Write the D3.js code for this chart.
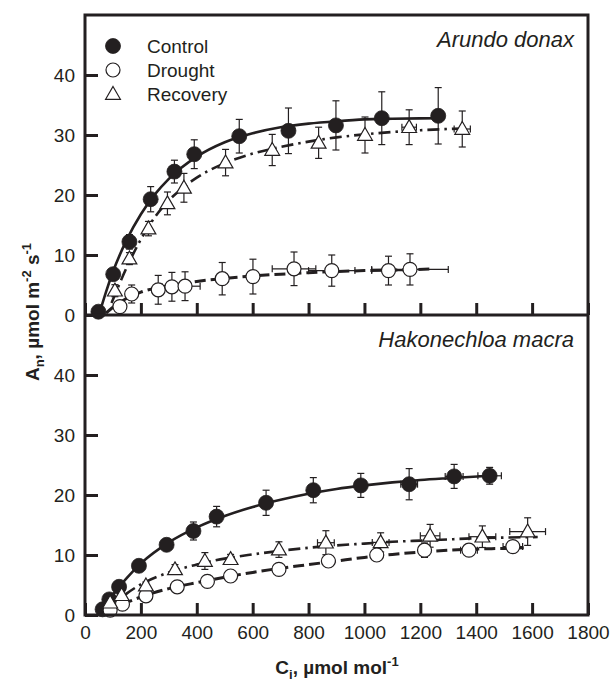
<!DOCTYPE html>
<html>
<head>
<meta charset="utf-8">
<script src="https://cdn.jsdelivr.net/npm/d3@7"></script>
<style>
body { margin: 0; background: #fff; }
text { font-family: "Liberation Sans", Arial, sans-serif; fill: #231f20; }
</style>
</head>
<body>
<div id="chart"></div>
<script>
// axis ticks
var xTicks = [0, 200, 400, 600, 800, 1000, 1200, 1400, 1600, 1800];
var yTicks = [0, 10, 20, 30, 40];
var seriesNames = ["Control", "Drought", "Recovery"];

// Arundo donax - means, SE of An, SE of Ci
var adControlCi = [48, 101, 159, 235, 320, 391, 552, 728, 898, 1062, 1264];
var adControlAn = [0.55, 6.8, 12.2, 19.3, 23.9, 26.8, 29.8, 30.7, 31.6, 32.8, 33.2];
var adControlErr = [0.3, 0.8, 1.2, 2.1, 1.9, 2.4, 2.8, 3.8, 4.1, 4.4, 4.7];
var adControlCiErr = [0, 0, 0, 0, 0, 0, 0, 0, 0, 0, 0];

var adDroughtCi = [125, 167, 262, 311, 358, 491, 601, 748, 883, 1086, 1163];
var adDroughtAn = [1.4, 3.5, 4.2, 4.7, 4.8, 6.05, 6.4, 7.7, 7.4, 7.4, 7.6];
var adDroughtErr = [0.5, 1.5, 2.4, 2.4, 2.4, 2.7, 2.9, 2.8, 2.6, 2.4, 2.6];
var adDroughtCiErr = [0, 0, 0, 35, 54, 0, 0, 78, 83, 60, 137];

var adRecoveryCi = [107, 159, 227, 295, 354, 503, 670, 836, 1002, 1160, 1350];
var adRecoveryAn = [4.05, 9.4, 14.4, 18.6, 21.2, 25.4, 27.5, 28.7, 30, 31.3, 31];
var adRecoveryErr = [1.0, 1.0, 1.2, 1.9, 2.4, 2.2, 2.6, 2.6, 3.0, 2.9, 3.0];
var adRecoveryCiErr = [0, 0, 0, 0, 0, 0, 0, 0, 0, 26, 29];

// Arundo donax - fitted curves
var adControlFitCi = [50, 75, 100, 150, 200, 250, 300, 400, 500, 600, 700, 800, 900, 1000, 1100, 1264];
var adControlFitAn = [0, 3.8, 7.2, 12.6, 16.8, 20.1, 22.7, 26.4, 28.8, 30.3, 31.3, 31.9, 32.3, 32.6, 32.7, 32.8];
var adDroughtFitCi = [75, 100, 150, 200, 300, 400, 500, 600, 700, 800, 900, 1000, 1100, 1235];
var adDroughtFitAn = [0.3, 1.3, 2.8, 3.8, 4.9, 5.6, 6.1, 6.5, 6.8, 7.05, 7.25, 7.4, 7.5, 7.65];
var adRecoveryFitCi = [95, 150, 200, 250, 300, 350, 400, 500, 600, 700, 800, 900, 1000, 1100, 1200, 1300, 1370];
var adRecoveryFitAn = [2.0, 8.0, 12.6, 16.3, 19.1, 21.2, 22.9, 25.3, 26.9, 28.0, 28.9, 29.6, 30.1, 30.5, 30.8, 31.0, 31.1];

// Hakonechloa macra - means, SE of An, SE of Ci
var hmControlCi = [63, 87, 122, 193, 292, 388, 471, 648, 817, 987, 1160, 1321, 1448];
var hmControlAn = [0.95, 2.6, 4.7, 8.2, 11.7, 14, 16.4, 18.7, 20.8, 21.6, 21.8, 23.1, 23.2];
var hmControlErr = [0.3, 0.4, 0.5, 0.6, 0.7, 1.5, 1.7, 2.1, 2.1, 2.0, 2.6, 2.0, 1.4];
var hmControlCiErr = [0, 0, 0, 0, 0, 0, 0, 0, 0, 0, 30, 32, 42];

var hmDroughtCi = [90, 134, 218, 330, 438, 521, 694, 871, 1044, 1215, 1374, 1531];
var hmDroughtAn = [0.8, 1.8, 3.2, 4.7, 5.6, 6.5, 7.6, 9, 10, 10.8, 10.8, 11.4];
var hmDroughtErr = [0.3, 0.3, 0.4, 0.5, 0.5, 0.5, 0.5, 0.6, 0.8, 1.2, 0.6, 0.6];
var hmDroughtCiErr = [0, 0, 0, 0, 0, 0, 0, 0, 0, 0, 30, 35];

var hmRecoveryCi = [90, 131, 218, 322, 429, 521, 694, 862, 1058, 1235, 1422, 1584];
var hmRecoveryAn = [2.05, 3.3, 4.9, 7.6, 9, 9.3, 10.9, 12.05, 12.1, 13.2, 13.05, 13.9];
var hmRecoveryErr = [0.4, 0.5, 0.6, 0.8, 1.4, 0.8, 1.3, 2.0, 1.6, 1.9, 1.8, 2.3];
var hmRecoveryCiErr = [0, 0, 0, 0, 0, 0, 0, 30, 30, 35, 48, 64];

// Hakonechloa macra - fitted curves
var hmControlFitCi = [55, 75, 100, 150, 200, 300, 400, 500, 600, 700, 800, 900, 1000, 1100, 1200, 1300, 1450];
var hmControlFitAn = [0.3, 1.9, 3.4, 6.2, 8.6, 12.1, 14.6, 16.5, 18.0, 19.2, 20.2, 21.0, 21.6, 22.1, 22.5, 22.8, 23.2];
var hmDroughtFitCi = [85, 100, 150, 200, 300, 400, 500, 600, 700, 800, 900, 1000, 1100, 1200, 1300, 1400, 1500, 1570];
var hmDroughtFitAn = [0.3, 1.0, 2.1, 3.0, 4.4, 5.4, 6.3, 7.1, 7.8, 8.4, 9.0, 9.6, 10.1, 10.5, 10.8, 11.0, 11.1, 11.2];
var hmRecoveryFitCi = [80, 100, 150, 200, 300, 400, 500, 600, 700, 800, 900, 1000, 1100, 1200, 1300, 1400, 1500, 1620];
var hmRecoveryFitAn = [0.5, 1.6, 3.6, 5.1, 7.1, 8.4, 9.4, 10.1, 10.7, 11.2, 11.6, 11.9, 12.2, 12.4, 12.6, 12.8, 12.9, 13.0];

var ink = "#231f20";
var W = 610, H = 690;
var plotL = 85, plotR = 588, plotT = 15, plotMid = 315, plotB = 615;

var svg = d3.select("#chart").append("svg")
    .attr("width", W)
    .attr("height", H);

var x = d3.scaleLinear().domain([0, 1800]).range([plotL, plotR]);
var yTop = d3.scaleLinear().domain([0, 50]).range([plotMid, plotT]);
var yBot = d3.scaleLinear().domain([0, 50]).range([plotB, plotMid]);

function zipPts(ci, an, err, ciErr) {
    return ci.map(function (d, i) {
        return {ci: d, an: an[i], err: err ? err[i] : 0, ciErr: ciErr ? ciErr[i] : 0};
    });
}

// line styles per treatment
var styles = {
    Control: {dash: null, width: 2.6},
    Drought: {dash: "11,5", width: 3},
    Recovery: {dash: "12,5,2.5,5", width: 2.6}
};

var triangle = d3.symbol().type(d3.symbolTriangle).size(95);

function marker(g, name, cx, cy) {
    if (name == "Control") {
        g.append("circle").attr("cx", cx).attr("cy", cy).attr("r", 7.5)
            .attr("fill", ink).attr("stroke", ink).attr("stroke-width", 0.8);
    } else if (name == "Drought") {
        g.append("circle").attr("cx", cx).attr("cy", cy).attr("r", 7)
            .attr("fill", "#fff").attr("stroke", ink).attr("stroke-width", 1.2);
    } else {
        g.append("path").attr("d", triangle)
            .attr("transform", "translate(" + cx + "," + (cy + 1) + ")")
            .attr("fill", "#fff").attr("stroke", ink).attr("stroke-width", 1.2);
    }
}

function drawPanel(y, series, fits, label) {
    var g = svg.append("g");
    var line = d3.line()
        .x(function (d) { return x(d.ci); })
        .y(function (d) { return y(d.an); })
        .curve(d3.curveMonotoneX);

    // fitted curves
    fits.forEach(function (f) {
        g.append("path")
            .datum(f.pts)
            .attr("d", line)
            .attr("fill", "none")
            .attr("stroke", ink)
            .attr("stroke-width", styles[f.name].width)
            .attr("stroke-dasharray", styles[f.name].dash);
    });

    // error bars
    var cap = 3.5;
    series.forEach(function (s) {
        s.pts.forEach(function (d) {
            var px = x(d.ci), py = y(d.an);
            if (d.err > 0) {
                var y0 = y(d.an - d.err), y1 = y(d.an + d.err);
                g.append("line").attr("x1", px).attr("x2", px).attr("y1", y0).attr("y2", y1);
                g.append("line").attr("x1", px - cap).attr("x2", px + cap).attr("y1", y0).attr("y2", y0);
                g.append("line").attr("x1", px - cap).attr("x2", px + cap).attr("y1", y1).attr("y2", y1);
            }
            if (d.ciErr > 0) {
                var x0 = x(d.ci - d.ciErr), x1 = x(d.ci + d.ciErr);
                g.append("line").attr("x1", x0).attr("x2", x1).attr("y1", py).attr("y2", py);
                g.append("line").attr("x1", x0).attr("x2", x0).attr("y1", py - cap).attr("y2", py + cap);
                g.append("line").attr("x1", x1).attr("x2", x1).attr("y1", py - cap).attr("y2", py + cap);
            }
        });
    });
    g.selectAll("line").attr("stroke", ink).attr("stroke-width", 1.2);

    // markers
    series.forEach(function (s) {
        s.pts.forEach(function (d) {
            marker(g, s.name, x(d.ci), y(d.an));
        });
    });

    // species name
    svg.append("text")
        .attr("x", 574)
        .attr("y", y(50) + 32)
        .attr("text-anchor", "end")
        .style("font-style", "italic")
        .style("font-size", "22px")
        .text(label);

    // y axis, ticks inside
    var ya = svg.append("g")
        .attr("transform", "translate(" + plotL + ",0)")
        .call(d3.axisLeft(y).tickValues(yTicks).tickSize(-13).tickPadding(10));
    ya.select(".domain").remove();
    ya.selectAll(".tick line").attr("stroke", ink).attr("stroke-width", 3);
    ya.selectAll(".tick text").style("font-size", "19px").attr("fill", ink)
        .style("font-family", "'Liberation Sans', Arial, sans-serif");

    // x ticks along the panel bottom
    var xa = svg.append("g")
        .attr("transform", "translate(0," + y(0) + ")")
        .call(d3.axisBottom(x).tickValues(xTicks).tickFormat(d3.format("d"))
            .tickSize(-12).tickPadding(11));
    xa.select(".domain").remove();
    xa.selectAll(".tick line").attr("stroke", ink).attr("stroke-width", 3);
    xa.selectAll(".tick text").style("font-size", "19px").attr("fill", ink)
        .style("font-family", "'Liberation Sans', Arial, sans-serif");
    return xa;
}

var topAxis = drawPanel(yTop,
    [
        {name: "Control", pts: zipPts(adControlCi, adControlAn, adControlErr, adControlCiErr)},
        {name: "Drought", pts: zipPts(adDroughtCi, adDroughtAn, adDroughtErr, adDroughtCiErr)},
        {name: "Recovery", pts: zipPts(adRecoveryCi, adRecoveryAn, adRecoveryErr, adRecoveryCiErr)}
    ],
    [
        {name: "Control", pts: zipPts(adControlFitCi, adControlFitAn)},
        {name: "Drought", pts: zipPts(adDroughtFitCi, adDroughtFitAn)},
        {name: "Recovery", pts: zipPts(adRecoveryFitCi, adRecoveryFitAn)}
    ],
    "Arundo donax");
// only the bottom panel carries x labels
topAxis.selectAll(".tick text").remove();

drawPanel(yBot,
    [
        {name: "Control", pts: zipPts(hmControlCi, hmControlAn, hmControlErr, hmControlCiErr)},
        {name: "Drought", pts: zipPts(hmDroughtCi, hmDroughtAn, hmDroughtErr, hmDroughtCiErr)},
        {name: "Recovery", pts: zipPts(hmRecoveryCi, hmRecoveryAn, hmRecoveryErr, hmRecoveryCiErr)}
    ],
    [
        {name: "Control", pts: zipPts(hmControlFitCi, hmControlFitAn)},
        {name: "Drought", pts: zipPts(hmDroughtFitCi, hmDroughtFitAn)},
        {name: "Recovery", pts: zipPts(hmRecoveryFitCi, hmRecoveryFitAn)}
    ],
    "Hakonechloa macra");

// frames
svg.append("rect")
    .attr("x", plotL).attr("y", plotT)
    .attr("width", plotR - plotL).attr("height", plotB - plotT)
    .attr("fill", "none").attr("stroke", ink).attr("stroke-width", 3);
svg.append("line")
    .attr("x1", plotL).attr("x2", plotR).attr("y1", plotMid).attr("y2", plotMid)
    .attr("stroke", ink).attr("stroke-width", 3);

// legend
var leg = svg.append("g");
seriesNames.forEach(function (n, i) {
    var cy = 46 + i * 24;
    marker(leg, n, 113, cy);
    leg.append("text")
        .attr("x", 147).attr("y", cy)
        .attr("dy", "0.35em")
        .style("font-size", "19px")
        .text(n);
});

// axis titles
var yt = svg.append("text")
    .attr("transform", "translate(39,312) rotate(-90)")
    .attr("text-anchor", "middle")
    .style("font-size", "19px")
    .style("font-weight", "bold");
yt.append("tspan").text("A");
yt.append("tspan").attr("dy", 5).style("font-size", "13px").text("n");
yt.append("tspan").attr("dy", -5).text(", \u00b5mol m");
yt.append("tspan").attr("dy", -8).style("font-size", "13px").text("-2");
yt.append("tspan").attr("dy", 8).text(" s");
yt.append("tspan").attr("dy", -8).style("font-size", "13px").text("-1");

var xt = svg.append("text")
    .attr("x", 337).attr("y", 674)
    .attr("text-anchor", "middle")
    .style("font-size", "19px")
    .style("font-weight", "bold");
xt.append("tspan").text("C");
xt.append("tspan").attr("dy", 5).style("font-size", "13px").text("i");
xt.append("tspan").attr("dy", -5).text(", \u00b5mol mol");
xt.append("tspan").attr("dy", -8).style("font-size", "13px").text("-1");
</script>
</body>
</html>
